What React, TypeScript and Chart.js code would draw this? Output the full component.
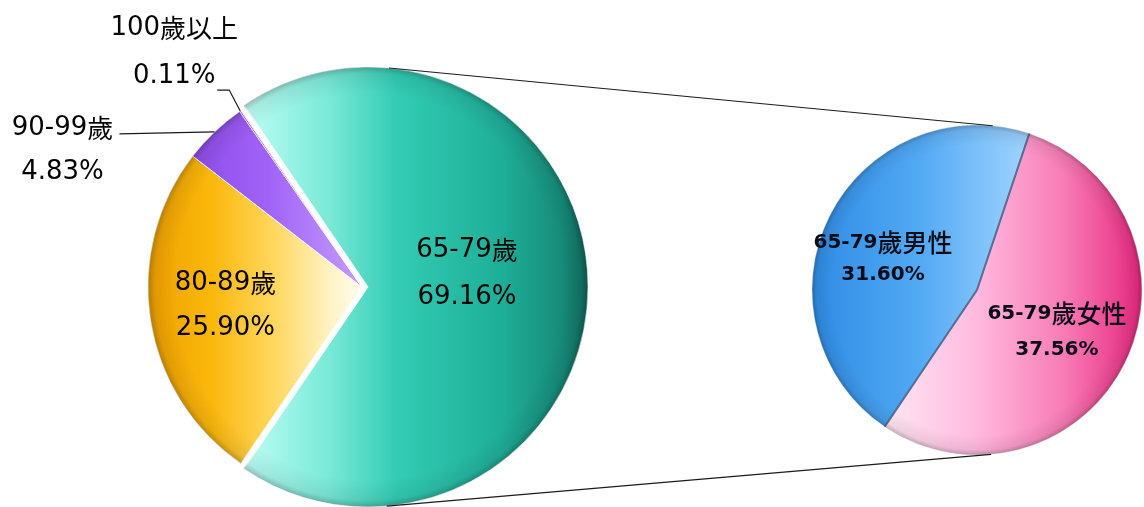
import React, { useEffect, useRef } from 'react';
import { Chart, registerables } from 'chart.js';

Chart.register(...registerables);

// ---------- data ----------
const mainCategories = ['65-79歲', '80-89歲', '90-99歲', '100歲以上'];
const mainValues = [69.16, 25.9, 4.83, 0.11];
const splitCategories = ['65-79歲男性', '65-79歲女性'];
const splitValues = [31.6, 37.56];

// ---------- layout / style ----------
const PAGE_W = 1144;
const PAGE_H = 507;
const LEFT = { left: 0, width: 724, padTop: 67, padLeft: 0, radius: 214, explode: 24 };
const RIGHT = { left: 790, width: 354, padTop: 73, padLeft: 20, radius: 165, rotation: 214 };

const LATIN_L = '26px "DejaVu Sans", sans-serif';
const CJK_L = '26px "Noto Sans CJK TC", sans-serif';
const LATIN_R = 'bold 20px "DejaVu Sans", sans-serif';
const CJK_R = '500 25px "Noto Sans CJK TC", sans-serif';

type Stop = [number, string];
const pct = (v: number) => v.toFixed(2) + '%';

function drawMixed(ctx: CanvasRenderingContext2D, text: string, x: number, y: number, latin: string, cjk: string, color: string) {
  const runs: { t: string; cjk: boolean; w: number }[] = [];
  for (const ch of text) {
    const isCjk = ch.charCodeAt(0) > 0x2e80;
    const last = runs[runs.length - 1];
    if (last && last.cjk === isCjk) last.t += ch;
    else runs.push({ t: ch, cjk: isCjk, w: 0 });
  }
  let total = 0;
  for (const r of runs) {
    ctx.font = r.cjk ? cjk : latin;
    r.w = ctx.measureText(r.t).width;
    total += r.w;
  }
  let cx = x - total / 2;
  ctx.fillStyle = color;
  ctx.textBaseline = 'middle';
  ctx.textAlign = 'left';
  for (const r of runs) {
    ctx.font = r.cjk ? cjk : latin;
    ctx.fillText(r.t, cx, y);
    cx += r.w;
  }
}

function arcGeom(el: any) {
  const off = ((el.options && el.options.offset) || 0) / 4;
  const half = (el.startAngle + el.endAngle) / 2;
  const circ = el.endAngle - el.startAngle;
  const fix = 1 - Math.sin(Math.min(Math.PI, circ));
  return {
    x: el.x + Math.cos(half) * off,
    y: el.y + Math.sin(half) * off,
    r: el.outerRadius + off * fix,
    s: el.startAngle,
    e: el.endAngle,
    mid: half,
  };
}

function linGrad(ctx: CanvasRenderingContext2D, x0: number, x1: number, stops: Stop[]) {
  const g = ctx.createLinearGradient(x0, 0, x1, 0);
  stops.forEach(([p, c]) => g.addColorStop(p, c));
  return g;
}

const bevelPlugin = {
  id: 'bevel',
  afterDatasetsDraw(chart: any) {
    const ctx: CanvasRenderingContext2D = chart.ctx;
    const meta = chart.getDatasetMeta(0);
    meta.data.forEach((el: any) => {
      const g = arcGeom(el);
      if (g.e - g.s < 0.01) return;
      ctx.save();
      ctx.beginPath();
      ctx.moveTo(g.x, g.y);
      ctx.arc(g.x, g.y, g.r, g.s, g.e);
      ctx.closePath();
      ctx.clip();
      const rg = ctx.createRadialGradient(g.x, g.y, g.r * 0.88, g.x, g.y, g.r);
      rg.addColorStop(0, 'rgba(0,0,0,0)');
      rg.addColorStop(0.75, 'rgba(0,0,0,0.07)');
      rg.addColorStop(1, 'rgba(0,0,0,0.24)');
      ctx.fillStyle = rg;
      ctx.fillRect(g.x - g.r, g.y - g.r, g.r * 2, g.r * 2);
      ctx.restore();
    });
  },
};

// label placement (relative to the library's arc geometry)
const mainLabelLayout = [
  { kind: 'in', frac: 0.45, dy: -13.5, gap: 47 },
  { kind: 'in', frac: 0.646, dy: -3, gap: 45 },
  { kind: 'out', leader: [[-95, 2]], textDx: -57, line1Dy: -6, gap: 44 },
  { kind: 'out', leader: [[-11, -21], [-12, 0]], textDx: -43, line1Dy: -62, gap: 48 },
];
const splitLabelLayout = [
  { frac: 0.635, dy: 15, gap: 32 },
  { frac: 0.54, dy: 2.6, gap: 36 },
];

const mainLabelPlugin = {
  id: 'mainLabels',
  afterDraw(chart: any) {
    const ctx: CanvasRenderingContext2D = chart.ctx;
    const meta = chart.getDatasetMeta(0);
    meta.data.forEach((el: any, i: number) => {
      const g = arcGeom(el);
      const lay: any = mainLabelLayout[i];
      const name = mainCategories[i];
      const val = pct(mainValues[i]);
      ctx.save();
      if (lay.kind === 'in') {
        const px = g.x + Math.cos(g.mid) * g.r * lay.frac;
        const py = g.y + Math.sin(g.mid) * g.r * lay.frac + lay.dy;
        drawMixed(ctx, name, px, py - lay.gap / 2, LATIN_L, CJK_L, '#050505');
        drawMixed(ctx, val, px, py + lay.gap / 2, LATIN_L, CJK_L, '#050505');
      } else {
        let x = g.x + Math.cos(g.mid) * g.r;
        let y = g.y + Math.sin(g.mid) * g.r;
        ctx.beginPath();
        ctx.moveTo(x, y);
        for (const [dx, dy] of lay.leader) {
          x += dx;
          y += dy;
          ctx.lineTo(x, y);
        }
        ctx.strokeStyle = '#1a1a1a';
        ctx.lineWidth = 1.2;
        ctx.stroke();
        const tx = x + lay.textDx;
        const ty = y + lay.line1Dy;
        drawMixed(ctx, name, tx, ty, LATIN_L, CJK_L, '#050505');
        drawMixed(ctx, val, tx, ty + lay.gap, LATIN_L, CJK_L, '#050505');
      }
      ctx.restore();
    });
  },
};

const splitLabelPlugin = {
  id: 'splitLabels',
  afterDraw(chart: any) {
    const ctx: CanvasRenderingContext2D = chart.ctx;
    const meta = chart.getDatasetMeta(0);
    // dark seam along the male slice's straight edges
    const m = arcGeom(meta.data[0]);
    ctx.save();
    ctx.strokeStyle = 'rgba(40,70,110,0.75)';
    ctx.lineWidth = 2;
    for (const ang of [m.s, m.e]) {
      ctx.beginPath();
      ctx.moveTo(m.x, m.y);
      ctx.lineTo(m.x + Math.cos(ang) * m.r, m.y + Math.sin(ang) * m.r);
      ctx.stroke();
    }
    ctx.restore();
    meta.data.forEach((el: any, i: number) => {
      const g = arcGeom(el);
      const lay = splitLabelLayout[i];
      const px = g.x + Math.cos(g.mid) * g.r * lay.frac;
      const py = g.y + Math.sin(g.mid) * g.r * lay.frac + lay.dy;
      ctx.save();
      drawMixed(ctx, splitCategories[i], px, py - lay.gap / 2, LATIN_R, CJK_R, '#0c0c18');
      drawMixed(ctx, pct(splitValues[i]), px, py + lay.gap / 2, LATIN_R, CJK_R, '#0c0c18');
      ctx.restore();
    });
  },
};

function centerOf(chart: any) {
  const a = chart.chartArea;
  return { cx: (a.left + a.right) / 2, cy: (a.top + a.bottom) / 2 };
}

const mainColors = (c: any) => {
  const chart = c.chart;
  if (!chart.chartArea) return '#2cc6ae';
  const { cx } = centerOf(chart);
  const R = LEFT.radius;
  const ctx = chart.ctx;
  switch (c.dataIndex) {
    case 0:
      return linGrad(ctx, cx - 130, cx + R + 8, [
        [0, '#c2fff7'], [0.25, '#7cead8'], [0.45, '#33ccb4'], [0.75, '#1eae97'], [0.92, '#178c7a'], [1, '#0f6a5c'],
      ]);
    case 1:
      return linGrad(ctx, cx - R, cx, [
        [0, '#eea000'], [0.3, '#fbb80c'], [0.6, '#ffd862'], [0.85, '#fff3c4'], [1, '#fffcee'],
      ]);
    case 2:
      return linGrad(ctx, cx - 190, cx, [[0, '#8a46e6'], [0.5, '#a062f6'], [1, '#c49cff']]);
    default:
      return '#7a3fd8';
  }
};

const splitColors = (c: any) => {
  const chart = c.chart;
  if (!chart.chartArea) return '#55aaf0';
  const { cx } = centerOf(chart);
  const R = RIGHT.radius;
  const ctx = chart.ctx;
  if (c.dataIndex === 0) {
    return linGrad(ctx, cx - R, cx + 50, [[0, '#2f8ce4'], [0.5, '#52a9f3'], [1, '#9fd3ff']]);
  }
  return linGrad(ctx, cx - 90, cx + R, [[0, '#ffe6f3'], [0.35, '#ffbade'], [0.7, '#f77ab4'], [1, '#e6287f']]);
};

export default function App() {
  const leftRef = useRef<HTMLCanvasElement>(null);
  const rightRef = useRef<HTMLCanvasElement>(null);
  const overRef = useRef<HTMLCanvasElement>(null);

  useEffect(() => {
    document.body.style.margin = '0';
    const total = mainValues.reduce((a, b) => a + b, 0);
    const firstHalf = (mainValues[0] / total) * 180;

    const left = new Chart(leftRef.current!, {
      type: 'pie',
      data: {
        labels: mainCategories,
        datasets: [
          {
            data: mainValues,
            backgroundColor: mainColors,
            borderColor: 'rgba(255,255,255,0.85)',
            borderWidth: 1,
            offset: mainValues.map((_, i) => (i === 0 ? LEFT.explode : 0)),
          },
        ],
      },
      options: {
        responsive: false,
        animation: false,
        events: [],
        radius: LEFT.radius,
        rotation: 90 - firstHalf,
        layout: { padding: { top: LEFT.padTop, left: LEFT.padLeft, right: 0, bottom: 0 } },
        plugins: { legend: { display: false }, tooltip: { enabled: false } },
      } as any,
      plugins: [bevelPlugin, mainLabelPlugin],
    });

    const right = new Chart(rightRef.current!, {
      type: 'pie',
      data: {
        labels: splitCategories,
        datasets: [
          {
            data: splitValues,
            backgroundColor: splitColors,
            borderColor: 'rgba(255,255,255,0.6)',
            borderWidth: 1,
          },
        ],
      },
      options: {
        responsive: false,
        animation: false,
        events: [],
        radius: RIGHT.radius,
        rotation: RIGHT.rotation,
        layout: { padding: { top: RIGHT.padTop, left: RIGHT.padLeft, right: 0, bottom: 0 } },
        plugins: { legend: { display: false }, tooltip: { enabled: false } },
      } as any,
      plugins: [bevelPlugin, splitLabelPlugin],
    });

    // connector lines: external tangents between the exploded slice and the split pie
    const oc = overRef.current!;
    const octx = oc.getContext('2d')!;
    octx.clearRect(0, 0, PAGE_W, PAGE_H);
    const a = arcGeom(left.getDatasetMeta(0).data[0]);
    const rEl: any = right.getDatasetMeta(0).data[0];
    const x1 = a.x + LEFT.left, y1 = a.y, r1 = a.r;
    const x2 = rEl.x + RIGHT.left, y2 = rEl.y, r2 = rEl.outerRadius;
    const dx = x2 - x1, dy = y2 - y1;
    const d = Math.hypot(dx, dy);
    const ux = dx / d, uy = dy / d;
    const c = (r1 - r2) / d;
    const h = Math.sqrt(Math.max(0, 1 - c * c));
    const px = -uy, py = ux;
    for (const sgn of [-1, 1]) {
      const nx = c * ux + sgn * h * px;
      const ny = c * uy + sgn * h * py;
      octx.beginPath();
      octx.moveTo(x1 + r1 * nx, y1 + r1 * ny);
      octx.lineTo(x2 + r2 * nx, y2 + r2 * ny);
      octx.strokeStyle = '#1c1c1c';
      octx.lineWidth = 1.2;
      octx.stroke();
    }

    return () => {
      left.destroy();
      right.destroy();
    };
  }, []);

  return (
    <div style={{ position: 'relative', width: PAGE_W, height: PAGE_H, overflow: 'hidden', background: '#fff' }}>
      <canvas
        ref={leftRef}
        width={LEFT.width}
        height={PAGE_H}
        style={{ position: 'absolute', left: LEFT.left, top: 0 }}
      />
      <canvas
        ref={rightRef}
        width={RIGHT.width}
        height={PAGE_H}
        style={{ position: 'absolute', left: RIGHT.left, top: 0 }}
      />
      <canvas
        ref={overRef}
        width={PAGE_W}
        height={PAGE_H}
        style={{ position: 'absolute', left: 0, top: 0, pointerEvents: 'none' }}
      />
    </div>
  );
}
